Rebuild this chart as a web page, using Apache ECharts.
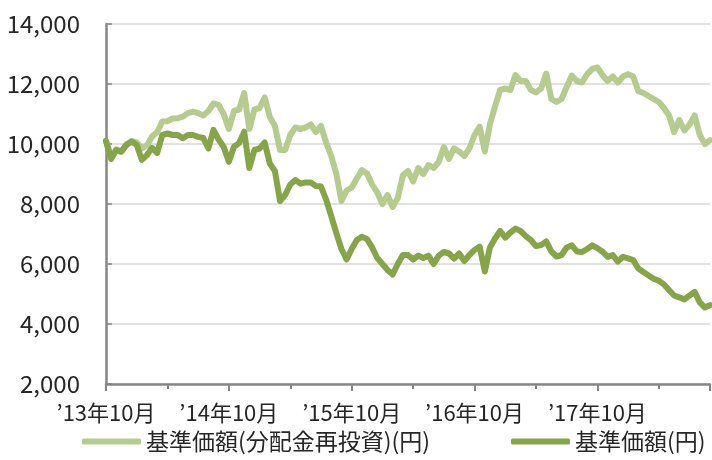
<!DOCTYPE html>
<html>
<head>
<meta charset="utf-8">
<script src="https://cdn.jsdelivr.net/npm/echarts@6/dist/echarts.min.js"></script>
<style>
  html, body { margin: 0; padding: 0; background: #fff; }
  #main { width: 712px; height: 460px; }
</style>
</head>
<body>
<div id="main"></div>
<script>
// 目盛ラベル（毎年10月）
var tickLabels = ['’13年10月', '’14年10月', '’15年10月', '’16年10月', '’17年10月'];
var seriesNames = ['基準価額(分配金再投資)(円)', '基準価額(円)'];

// 半月ごとの値（2013/10/1 〜 2018/9/1）
var reinvested = [
  10100, 9550, 9820, 9760, 9990, 10100, 10050, 9850, 9950, 10250,
  10400, 10750, 10760, 10850, 10860, 10910, 11030, 11080, 11030, 10950,
  11100, 11350, 11300, 11000, 10500, 11100, 11150, 11700, 10500, 11150,
  11200, 11550, 10900, 10600, 9800, 9800, 10300, 10550, 10500, 10550,
  10650, 10400, 10600, 10050, 9600, 9000, 8100, 8450, 8550, 8850,
  9130, 9020, 8650, 8380, 8000, 8300, 7900, 8200, 8950, 9100,
  8750, 9200, 9000, 9300, 9200, 9400, 9900, 9500, 9850, 9750,
  9600, 9850, 10300, 10580, 9750, 10650, 11250, 11800, 11850, 11800,
  12300, 12100, 12100, 11800, 11720, 11850, 12350, 11500, 11400, 11500,
  11900, 12280, 12100, 12050, 12330, 12500, 12550, 12300, 12100, 12250,
  12050, 12250, 12330, 12250, 11760, 11700, 11600, 11500, 11400, 11200,
  10950, 10400, 10800, 10450, 10650, 10950, 10300, 10000, 10130
];
var nav = [
  10100, 9500, 9800, 9740, 9970, 10080, 9970, 9470, 9630, 9870,
  9700, 10300, 10350, 10300, 10300, 10190, 10300, 10300, 10240, 10200,
  9850, 10470, 10150, 9900, 9410, 9910, 10030, 10410, 9200, 9800,
  9850, 10050, 9350, 9100, 8100, 8300, 8650, 8800, 8680, 8720,
  8720, 8600, 8580, 8150, 7600, 7030, 6500, 6150, 6500, 6800,
  6910, 6830, 6550, 6200, 6000, 5800, 5650, 6000, 6300, 6300,
  6150, 6280, 6200, 6280, 6000, 6280, 6400, 6350, 6180, 6350,
  6100, 6300, 6470, 6580, 5750, 6550, 6850, 7100, 6880, 7050,
  7180, 7100, 6930, 6800, 6600, 6630, 6750, 6420, 6250, 6300,
  6550, 6620, 6420, 6400, 6500, 6620, 6530, 6410, 6240, 6300,
  6080, 6240, 6190, 6130, 5850, 5730, 5620, 5510, 5440, 5320,
  5130, 4950, 4890, 4820, 4950, 5070, 4720, 4550, 4630
];

// 日付（毎月1日・16日）
var dates = [];
var yy = 2013, mm = 10;
while (dates.length < nav.length) {
  dates.push(yy + '/' + mm + '/1');
  if (dates.length < nav.length) dates.push(yy + '/' + mm + '/16');
  mm++;
  if (mm > 12) { mm = 1; yy++; }
}
// 2013/10/1 からの月数
function monthsOf(s) {
  var p = s.split('/');
  return (+p[0] - 2013) * 12 + (+p[1] - 10) + (+p[2] - 1) / 30;
}
function pairs(vals) {
  return vals.map(function (v, i) { return [monthsOf(dates[i]), v]; });
}

var FONT = '"Noto Sans CJK JP", sans-serif';
var legendBase = {
  top: 430,
  padding: 0,
  icon: 'roundRect',
  itemWidth: 59,
  itemHeight: 6,
  textStyle: { fontFamily: FONT, fontSize: 23, color: '#262626' }
};
var chart = echarts.init(document.getElementById('main'));
chart.setOption({
  animation: false,
  backgroundColor: '#fff',
  color: ['#b5cb8f', '#86a44a'],
  grid: { left: 106, right: 2, top: 24, bottom: 76 },
  legend: [
    Object.assign({}, legendBase, { left: 82, data: [seriesNames[0]] }),
    Object.assign({}, legendBase, { left: 511, data: [seriesNames[1]] })
  ],
  xAxis: {
    type: 'value',
    min: 0,
    max: 59,
    interval: 12,
    axisLine: { lineStyle: { color: '#868686', width: 2.5 } },
    axisTick: { show: true, length: 7, lineStyle: { color: '#868686', width: 2 } },
    minorTick: { show: true, splitNumber: 2, length: 5, lineStyle: { color: '#868686', width: 2 } },
    splitLine: { show: false },
    axisLabel: {
      showMaxLabel: false,
      margin: 18,
      fontFamily: FONT,
      fontSize: 22,
      color: '#262626',
      formatter: function (v) { return tickLabels[Math.round(v / 12)] || ''; }
    }
  },
  yAxis: {
    type: 'value',
    min: 2000,
    max: 14000,
    interval: 2000,
    axisLine: { show: true, lineStyle: { color: '#868686', width: 2.5 } },
    axisTick: { show: true, inside: true, length: 6, lineStyle: { color: '#868686', width: 1.5 } },
    splitLine: { lineStyle: { color: '#d9d9d9', width: 1.5 } },
    axisLabel: {
      margin: 26,
      fontFamily: FONT,
      fontSize: 24,
      color: '#262626',
      formatter: function (v) { return v.toLocaleString('en-US'); }
    }
  },
  series: [
    {
      name: seriesNames[0],
      type: 'line',
      data: pairs(reinvested),
      showSymbol: false,
      lineStyle: { width: 6, cap: 'round', join: 'round' }
    },
    {
      name: seriesNames[1],
      type: 'line',
      data: pairs(nav),
      showSymbol: false,
      lineStyle: { width: 6, cap: 'round', join: 'round' }
    }
  ]
});
</script>
</body>
</html>
